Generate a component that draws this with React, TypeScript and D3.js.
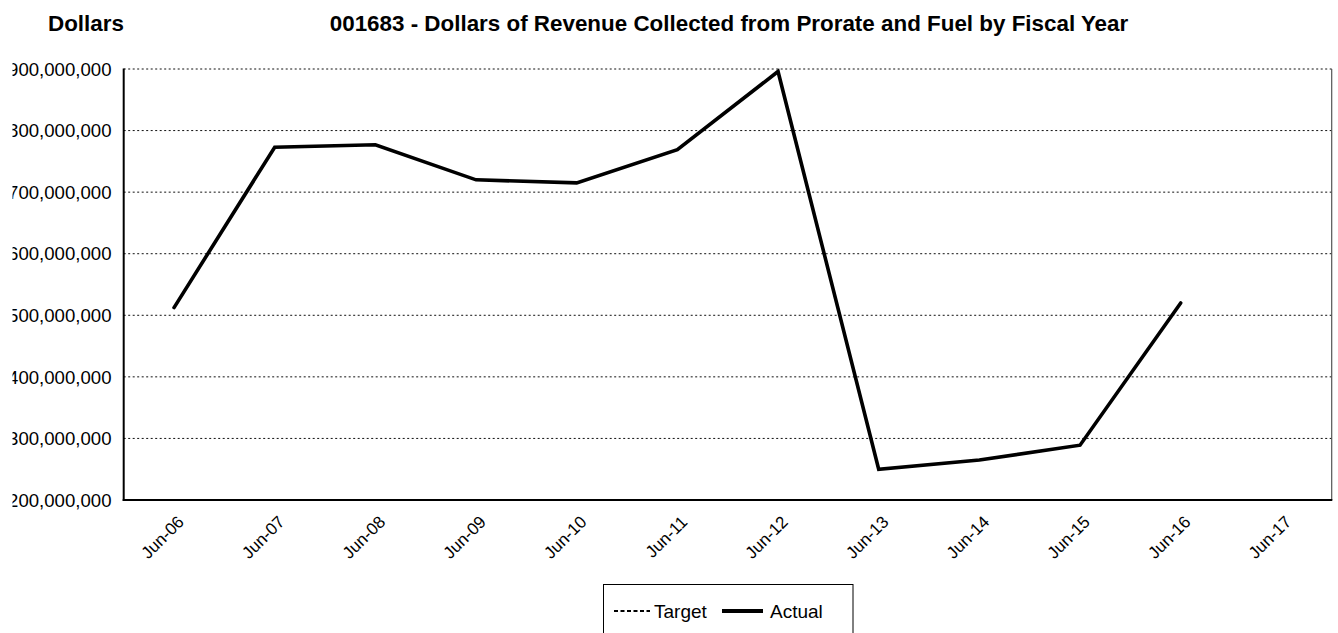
import React from 'react';
import * as d3 from 'd3';

const categories = ['Jun-06', 'Jun-07', 'Jun-08', 'Jun-09', 'Jun-10', 'Jun-11', 'Jun-12', 'Jun-13', 'Jun-14', 'Jun-15', 'Jun-16', 'Jun-17'];
const actualValues: (number | null)[] = [512500000, 773000000, 777000000, 720000000, 715000000, 769000000, 896000000, 250000000, 265000000, 289000000, 520000000, null];
const targetValues: (number | null)[] = [null, null, null, null, null, null, null, null, null, null, null, null];
const yTicks = [200000000, 300000000, 400000000, 500000000, 600000000, 700000000, 800000000, 900000000];

const W = 1338;
const H = 633;
const margin = { top: 69, right: 6.3, bottom: 133, left: 123.7 };
const font = 'Arial, "Liberation Sans", sans-serif';

const App = () => {
  const x = d3.scaleBand()
    .domain(categories)
    .range([margin.left, W - margin.right]);
  const y = d3.scaleLinear()
    .domain([200000000, 900000000])
    .range([H - margin.bottom, margin.top]);
  const fmt = d3.format(',');
  const cx = (c: string) => (x(c) as number) + x.bandwidth() / 2;

  const line = d3.line<number | null>()
    .defined(d => d !== null)
    .x((_, i) => cx(categories[i]))
    .y(d => y(d as number));

  const x0 = margin.left;
  const x1 = W - margin.right;
  const yb = y(200000000);
  const yt = y(900000000);

  return (
    <svg width={W} height={H} style={{ position: 'absolute', left: 0, top: 0, background: '#fff' }} fontFamily={font}>
      <defs>
        <clipPath id="lblclip">
          <rect x={12.5} y={0} width={W} height={H} />
        </clipPath>
      </defs>
      <text x={48} y={31} fontSize={22.4} fontWeight="bold">Dollars</text>
      <text x={729} y={31} fontSize={22.4} fontWeight="bold" textAnchor="middle">
        001683 - Dollars of Revenue Collected from Prorate and Fuel by Fiscal Year
      </text>

      {yTicks.filter(t => t > 200000000).map(t => (
        <line key={t} x1={x0} x2={x1} y1={y(t)} y2={y(t)} stroke="#111" strokeWidth={1} strokeDasharray="2,2.5" />
      ))}
      <line x1={x1} x2={x1} y1={yt} y2={yb} stroke="#555" strokeWidth={1.2} />
      <line x1={x0} x2={x0} y1={yt - 0.5} y2={yb + 1} stroke="#000" strokeWidth={2} />
      <line x1={x0 - 1} x2={x1 + 0.6} y1={yb} y2={yb} stroke="#000" strokeWidth={2} />

      <g clipPath="url(#lblclip)">
        {yTicks.map(t => (
          <text key={t} x={111.5} y={y(t)} dy="0.36em" fontSize={18.6} textAnchor="end">{fmt(t)}</text>
        ))}
      </g>

      {categories.map(c => (
        <text key={c} transform={`translate(${cx(c) + 11},${yb + 23}) rotate(-45)`} fontSize={17} textAnchor="end">{c}</text>
      ))}

      <path d={line(targetValues) || ''} fill="none" stroke="#000" strokeWidth={2} strokeDasharray="4,3" />
      <path d={line(actualValues) || ''} fill="none" stroke="#000" strokeWidth={3.6} strokeLinejoin="miter" strokeLinecap="round" />

      <g>
        <rect x={603.5} y={584.5} width={249.5} height={60} fill="#fff" stroke="#000" strokeWidth={1} />
        <line x1={614} x2={650} y1={611} y2={611} stroke="#000" strokeWidth={2} strokeDasharray="4,2.5" />
        <text x={654} y={618} fontSize={19}>Target</text>
        <line x1={722} x2={763} y1={611} y2={611} stroke="#000" strokeWidth={4} />
        <text x={770} y={618} fontSize={19}>Actual</text>
      </g>
    </svg>
  );
};

export default App;
